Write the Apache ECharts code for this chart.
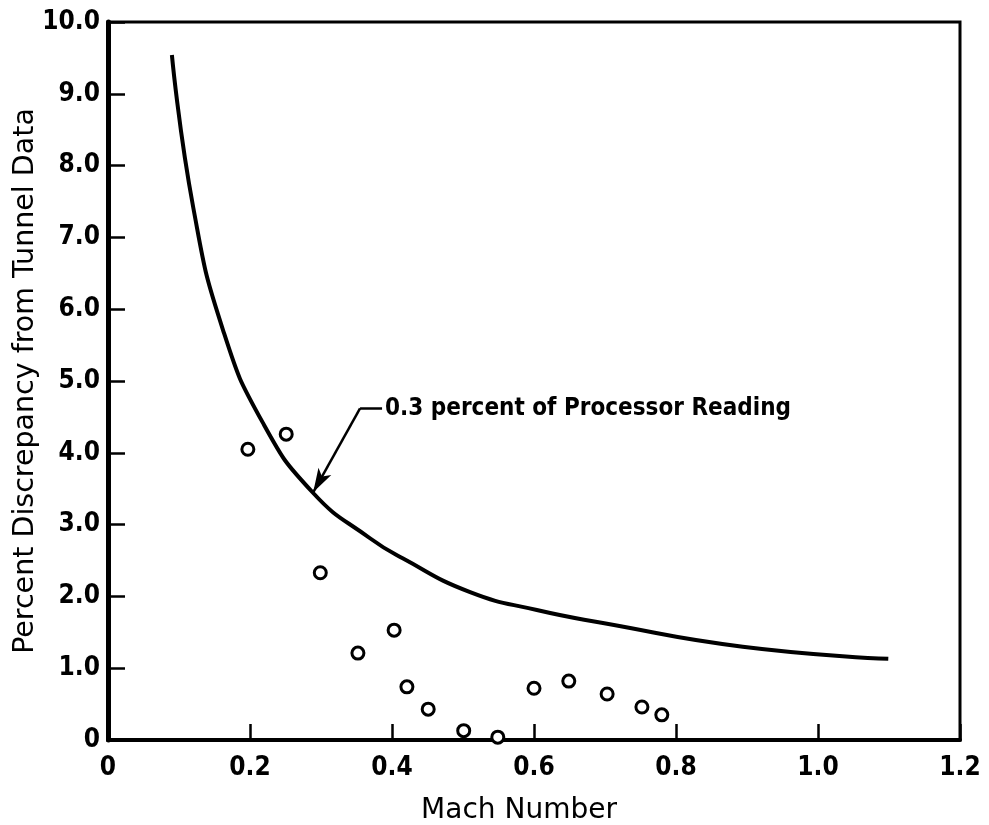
<!DOCTYPE html>
<html>
<head>
<meta charset="utf-8">
<script src="https://cdn.jsdelivr.net/npm/echarts@6/dist/echarts.min.js"></script>
<style>
html,body{margin:0;padding:0;background:#fff;}
#chart{width:989px;height:825px;}
</style>
</head>
<body>
<div id="chart"></div>
<script>
// Curve: 0.3 percent of processor reading
const curveMach = [0.090, 0.120, 0.162, 0.218, 0.289, 0.369, 0.415, 0.510, 0.604, 0.697, 0.894, 1.099];
const curveDiscrepancy = [9.54, 7.42, 5.71, 4.42, 3.44, 2.81, 2.53, 2.06, 1.81, 1.63, 1.30, 1.13];

// Measured points
const pointMach = [0.197, 0.251, 0.299, 0.352, 0.403, 0.421, 0.451, 0.501, 0.549, 0.600, 0.649, 0.703, 0.752, 0.780];
const pointDiscrepancy = [4.05, 4.26, 2.33, 1.21, 1.53, 0.74, 0.43, 0.13, 0.04, 0.72, 0.82, 0.64, 0.46, 0.35];

// Annotation anchor points (data coords)
const annotCorner = [0.355, 4.62];
const annotTextStart = [0.386, 4.62];
const annotTip = [0.289, 3.45];
const annotText = '0.3 percent of Processor Reading';

const xLabelText = 'Mach Number';
const yLabelText = 'Percent Discrepancy from Tunnel Data';

const FONT = '"DejaVu Sans Condensed", "DejaVu Sans", sans-serif';
const FONT_WIDE = '"DejaVu Sans", sans-serif';

const chart = echarts.init(document.getElementById('chart'), null, {renderer: 'canvas'});

const fmt = v => (v === 0 ? '0' : v.toFixed(1));

chart.setOption({
  animation: false,
  backgroundColor: '#ffffff',
  grid: {
    left: 108, right: 29, top: 22, bottom: 85,
    containLabel: false, outerBoundsMode: 'none',
    show: true, borderColor: '#000', borderWidth: 3, backgroundColor: 'transparent'
  },
  xAxis: {
    type: 'value', min: 0, max: 1.2, interval: 0.2,
    name: xLabelText, nameLocation: 'middle', nameGap: 57, nameMoveOverlap: false,
    nameTextStyle: {fontFamily: FONT_WIDE, fontSize: 28, color: '#000', padding: [0, 30, 0, 0]},
    axisLine: {show: true, lineStyle: {color: '#000', width: 4}},
    axisTick: {show: true, inside: true, length: 16, lineStyle: {color: '#000', width: 2.5}},
    axisLabel: {fontFamily: FONT, fontSize: 26, fontWeight: 'bold', color: '#000', margin: 15, formatter: fmt},
    splitLine: {show: false}
  },
  yAxis: {
    type: 'value', min: 0, max: 10, interval: 1,
    name: yLabelText, nameLocation: 'middle', nameGap: 68, nameRotate: 90, nameMoveOverlap: false,
    nameTextStyle: {fontFamily: FONT_WIDE, fontSize: 28.5, color: '#000'},
    axisLine: {show: true, lineStyle: {color: '#000', width: 5}},
    axisTick: {show: true, inside: true, length: 17, lineStyle: {color: '#000', width: 2.5}},
    axisLabel: {fontFamily: FONT, fontSize: 26, fontWeight: 'bold', color: '#000', margin: 8, formatter: fmt},
    splitLine: {show: false}
  },
  series: [
    {
      type: 'line',
      data: curveMach.map((m, i) => [m, curveDiscrepancy[i]]),
      smooth: 0.5,
      showSymbol: false,
      lineStyle: {color: '#000', width: 4},
      silent: true,
      markLine: {
        silent: true,
        symbol: ['none', 'none'],
        lineStyle: {color: '#000', width: 2.5, type: 'solid'},
        label: {show: false},
        data: [
          [
            {coord: annotCorner, symbol: 'none'},
            {coord: annotTextStart, symbol: 'none',
             label: {show: true, position: 'end', distance: 3, formatter: annotText,
                     padding: [10, 0, 0, 0],
                     fontFamily: FONT, fontSize: 24, fontWeight: 'bold', color: '#000'}}
          ],
          [
            {coord: annotCorner, symbol: 'none'},
            {coord: annotTip, symbol: 'arrow', symbolSize: [11, 24]}
          ]
        ]
      }
    },
    {
      type: 'scatter',
      data: pointMach.map((m, i) => [m, pointDiscrepancy[i]]),
      symbol: 'circle',
      symbolSize: 12,
      clip: false,
      itemStyle: {color: '#fff', borderColor: '#000', borderWidth: 3, opacity: 1}
    }
  ]
});
</script>
</body>
</html>
